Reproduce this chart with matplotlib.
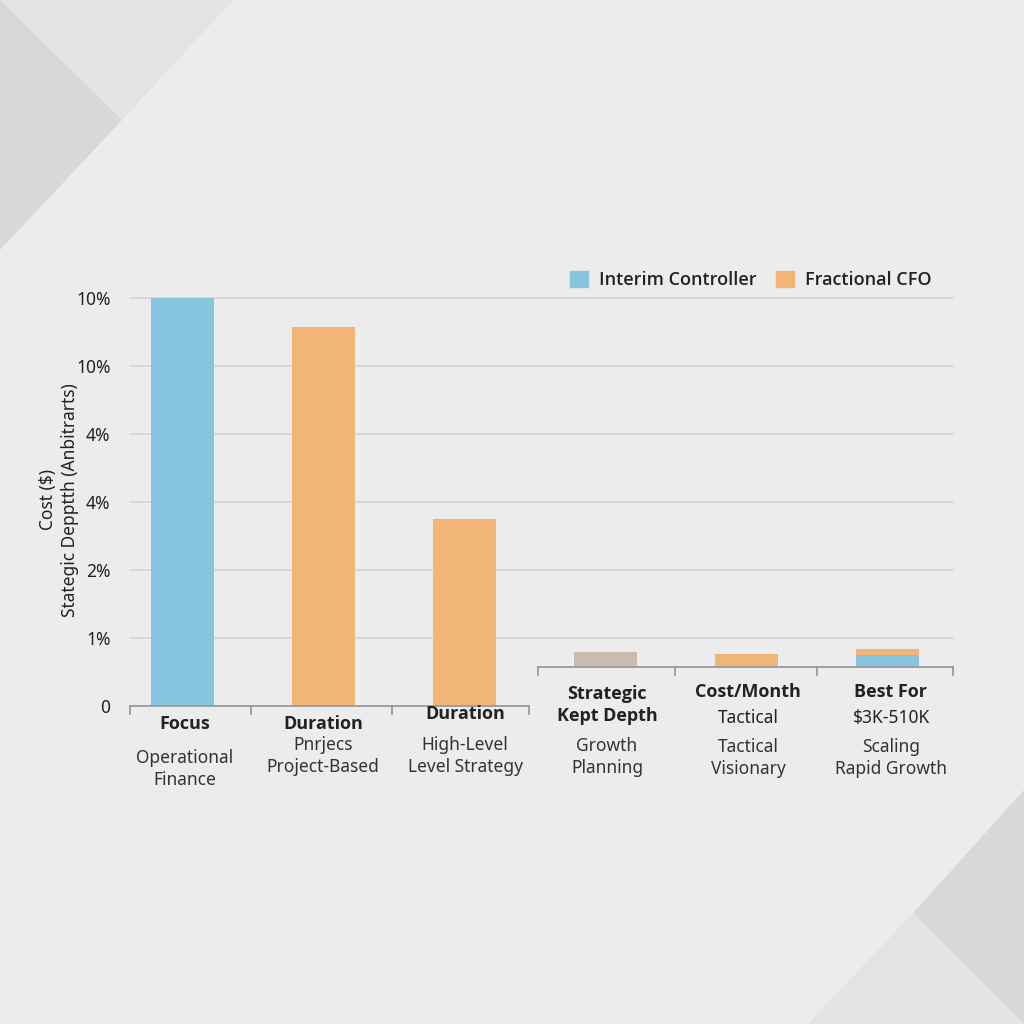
import matplotlib
matplotlib.use("Agg")
import matplotlib.pyplot as plt
from matplotlib.patches import Polygon, Patch

plt.rcParams['font.family'] = ['Noto Sans', 'DejaVu Sans']
BOLD_FAMILY = ['Open Sans', 'DejaVu Sans']

# ---------------- data ----------------
categories = ["Focus", "Duration", "Duration", "Strategic\nKept Depth", "Cost/Month", "Best For"]
mid_labels = ["", "", "", "", "Tactical", "$3K-510K"]
sub_labels = ["Operational\nFinance", "Pnrjecs\nProject-Based", "High-Level\nLevel Strategy",
              "Growth\nPlanning", "Tactical\nVisionary", "Scaling\nRapid Growth"]
interim = [6.0, 0.0, 0.0, 0.0, 0.0, 0.18]
fractional = [0.0, 5.57, 2.75, 0.0, 0.19, 0.09]
other = [0.0, 0.0, 0.0, 0.22, 0.0, 0.0]
right_base = 0.574
bases = [0.0, 0.0, 0.0, right_base, right_base, right_base]
ytick_vals = [0, 1, 2, 3, 4, 5, 6]
ytick_labels = ["0", "1%", "2%", "4%", "4%", "10%", "10%"]

BLUE = "#86c4e0"
ORANGE = "#f1b577"
TAN = "#c9bcae"
TXT = "#222222"

fig = plt.figure(figsize=(10.24, 10.24), dpi=100, facecolor="#ececec")

# background geometric shapes (figure coords, y up)
def P(pts, color):
    fig.patches.append(Polygon([(x / 1024, 1 - y / 1024) for x, y in pts], closed=True,
                               transform=fig.transFigure, facecolor=color, edgecolor="none", zorder=0))
P([(0, 0), (233, 0), (122, 120)], "#e3e3e3")
P([(0, 0), (122, 120), (0, 250)], "#d8d8d8")
P([(1024, 790), (913, 913), (1024, 1024)], "#d8d8d8")
P([(913, 913), (808, 1024), (1024, 1024)], "#e3e3e3")

L, R, T, B = 130, 953, 298, 706
ax = fig.add_axes([L / 1024, 1 - B / 1024, (R - L) / 1024, (B - T) / 1024])
ax.set_facecolor("none")
xmin, xmax = (L - 182.5) / 141, (R - 182.5) / 141
ax.set_xlim(xmin, xmax)
ax.set_ylim(0, 6)
for s in ax.spines.values():
    s.set_visible(False)

x = list(range(len(categories)))
w = 0.447
# gridlines
for v in ytick_vals[1:]:
    ax.plot([xmin, xmax], [v, v], color="#d4d4d4", lw=1.2, zorder=1, clip_on=False)

ax.bar(x, interim, w, bottom=bases, color=BLUE, zorder=2, label="Interim Controller")
stack = [b + i for b, i in zip(bases, interim)]
ax.bar(x, fractional, w, bottom=stack, color=ORANGE, zorder=2, label="Fractional CFO")
ax.bar(x, other, w, bottom=bases, color=TAN, zorder=2)

# baselines with tick marks
def px2x(p):
    return (p - 182.5) / 141
tick_len = 8 / 68
lx = [px2x(p) for p in (130, 251, 392, 529)]
ax.plot([lx[0], lx[-1]], [0, 0], color="#9a9a9a", lw=1.3, clip_on=False, zorder=3)
for t in lx:
    ax.plot([t, t], [0, -tick_len], color="#9a9a9a", lw=1.3, clip_on=False, zorder=3)
rx = [px2x(p) for p in (538, 675, 817, 953)]
ax.plot([rx[0], rx[-1]], [right_base, right_base], color="#9a9a9a", lw=1.3, clip_on=False, zorder=3)
for t in rx:
    ax.plot([t, t], [right_base, right_base - tick_len], color="#9a9a9a", lw=1.3, clip_on=False, zorder=3)

ax.set_xticks([])
ax.set_yticks(ytick_vals)
ax.set_yticklabels(ytick_labels, fontsize=12.5, color=TXT)
ax.tick_params(axis="y", length=0, pad=14)

fig.text(48 / 1024, 1 - 500 / 1024, "Cost ($)", rotation=90, ha="center", va="center",
         fontsize=12.5, color=TXT)
fig.text(70 / 1024, 1 - 500 / 1024, "Stategic Depptth (Anbitrarts)", rotation=90, ha="center",
         va="center", fontsize=12.5, color=TXT)

# category labels (pixel positions)
cat_x = [185, 323, 465, 607, 748, 891]
cat_y = [724, 724, 714, 705, 692, 692]
mid_y = [0, 0, 0, 0, 718, 718]
sub_y = [769, 756, 756, 757, 758, 758]
for i in range(len(categories)):
    fig.text(cat_x[i] / 1024, 1 - cat_y[i] / 1024, categories[i], ha="center", va="center",
             fontsize=13, fontweight="bold", family=BOLD_FAMILY, color=TXT, linespacing=1.35)
    if mid_labels[i]:
        fig.text(cat_x[i] / 1024, 1 - mid_y[i] / 1024, mid_labels[i], ha="center", va="center",
                 fontsize=12.5, color=TXT)
    fig.text(cat_x[i] / 1024, 1 - sub_y[i] / 1024, sub_labels[i], ha="center", va="center",
             fontsize=12.5, color="#333333", linespacing=1.25)

fig.legend(handles=[Patch(color=BLUE, label="Interim Controller"),
                    Patch(color=ORANGE, label="Fractional CFO")],
           loc="center right", bbox_to_anchor=(948 / 1024, 1 - 280 / 1024), ncol=2, frameon=False,
           prop={'family': ['Open Sans', 'DejaVu Sans'], 'weight': 'semibold', 'size': 13},
           handlelength=1.0, handleheight=1.0, handletextpad=0.6, columnspacing=1.1,
           labelcolor=TXT)

fig.savefig("out.png", dpi=100, facecolor=fig.get_facecolor())
